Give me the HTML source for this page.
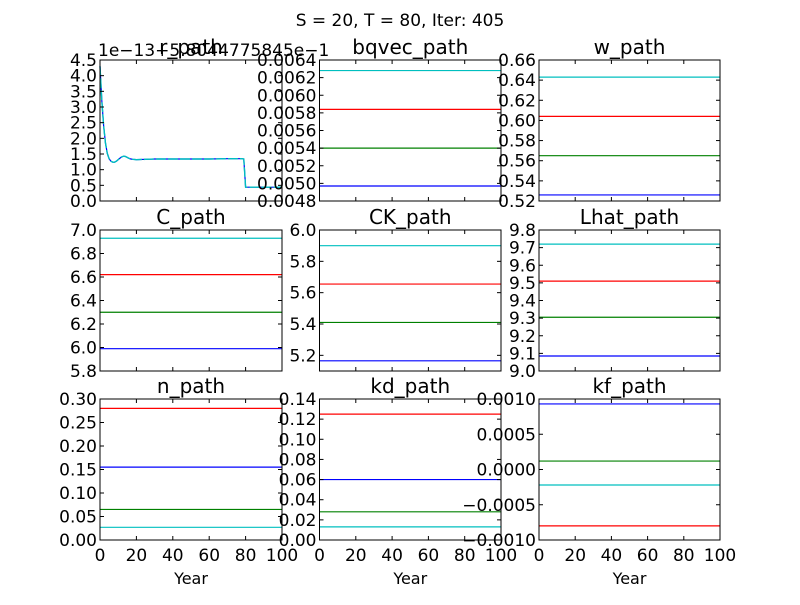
<!DOCTYPE html>
<html><head><meta charset="utf-8"><style>
body{margin:0;background:#fff;}
svg text{font-family:"DejaVu Sans","Liberation Sans",sans-serif;fill:#000;}
</style></head><body>
<svg id="fig" width="800" height="600" xmlns="http://www.w3.org/2000/svg">
<rect width="800" height="600" fill="#fff"/>
<text x="400" y="26" font-size="17" text-anchor="middle">S = 20, T = 80, Iter: 405</text>
</svg>
<script>
const titles = ["r_path","bqvec_path","w_path","C_path","CK_path","Lhat_path","n_path","kd_path","kf_path"];
const yMins = [0,0.0048,0.52,5.8,5.1,9.0,0,0,-0.001];
const yMaxs = [4.5,0.0064,0.66,7.0,6.0,9.8,0.30,0.14,0.001];
const yTickLabels = [
 ["0.0","0.5","1.0","1.5","2.0","2.5","3.0","3.5","4.0","4.5"],
 ["0.0048","0.0050","0.0052","0.0054","0.0056","0.0058","0.0060","0.0062","0.0064"],
 ["0.52","0.54","0.56","0.58","0.60","0.62","0.64","0.66"],
 ["5.8","6.0","6.2","6.4","6.6","6.8","7.0"],
 ["5.2","5.4","5.6","5.8","6.0"],
 ["9.0","9.1","9.2","9.3","9.4","9.5","9.6","9.7","9.8"],
 ["0.00","0.05","0.10","0.15","0.20","0.25","0.30"],
 ["0.00","0.02","0.04","0.06","0.08","0.10","0.12","0.14"],
 ["\u22120.0010","\u22120.0005","0.0000","0.0005","0.0010"]
];
const xTickLabels = ["0","20","40","60","80","100"];
const seriesColors = ["#0000ff","#008000","#ff0000","#00bfbf"];
// constant series values: blue, green, red, cyan
const blueVals  = [null,0.00497,0.526,5.99,5.165,9.085,0.155,0.060,0.00093];
const greenVals = [null,0.00540,0.565,6.30,5.41,9.305,0.065,0.028,0.00012];
const redVals   = [null,0.00584,0.604,6.62,5.655,9.51,0.280,0.125,-0.0008];
const cyanVals  = [null,0.00628,0.643,6.93,5.90,9.72,0.027,0.013,-0.00022];
// r_path curve (units of 1e-13 offset)
const rYears = [0,1,2,3,4,5,6,7,8,9,10,11,12,13,14,15,16,17,18,20,25,30,40,50,60,70,78,79,79.5,80,90,100];
const rVals  = [4.3,3.2,2.4,1.85,1.52,1.35,1.27,1.24,1.24,1.27,1.32,1.37,1.41,1.43,1.42,1.39,1.36,1.34,1.33,1.32,1.33,1.34,1.34,1.34,1.34,1.35,1.35,1.34,0.9,0.44,0.44,0.44];

const svg = document.getElementById('fig');
const NS = "http://www.w3.org/2000/svg";
const colX = [[100,282],[319.5,501],[539,720]];
const rowY = [[60,201],[230,371],[399,540]];
function mk(tag, attrs){const e=document.createElementNS(NS,tag);for(const k in attrs)e.setAttribute(k,attrs[k]);svg.appendChild(e);return e;}

for(let i=0;i<9;i++){
  const c=i%3, r=Math.floor(i/3);
  const [x0,x1]=colX[c], [y0,y1]=rowY[r];
  const ymin=yMins[i], ymax=yMaxs[i];
  const sx=v=>x0+(v/100)*(x1-x0);
  const sy=v=>y1-(v-ymin)/(ymax-ymin)*(y1-y0);
  if(i===0){
    let d="";
    for(let k=0;k<rYears.length;k++) d+=(k?"L":"M")+sx(rYears[k]).toFixed(2)+","+sy(rVals[k]).toFixed(2);
    const p=mk('path',{d:d,fill:'none',stroke:'#0000ff','stroke-width':1.2});
    
    
    const p2=mk('path',{d:d,fill:'none',stroke:'#00bfbf','stroke-width':1.4,'stroke-dasharray':'10,2'});
    
    
  } else {
    const vals=[blueVals[i],greenVals[i],redVals[i],cyanVals[i]];
    const nm=["blue","green","red","cyan"];
    for(let s=0;s<4;s++){
      const l=mk('line',{x1:sx(0),x2:sx(100),y1:sy(vals[s]),y2:sy(vals[s]),stroke:seriesColors[s],'stroke-width':1.2});
      
      
    }
  }
  const fr=mk('rect',{x:x0,y:y0,width:x1-x0,height:y1-y0,fill:'none',stroke:'#000','stroke-width':1});
  
  
  const labs=yTickLabels[i];
  for(let k=0;k<labs.length;k++){
    const v=parseFloat(labs[k].replace('\u2212','-'));
    const y=sy(v);
    mk('line',{x1:x0,x2:x0+4,y1:y,y2:y,stroke:'#000'});
    mk('line',{x1:x1-4,x2:x1,y1:y,y2:y,stroke:'#000'});
    const t=mk('text',{x:x0-3,y:y+6,'font-size':17,'text-anchor':'end'});
    t.textContent=labs[k];
    
    
  }
  for(let k=0;k<xTickLabels.length;k++){
    const x=sx(parseFloat(xTickLabels[k]));
    mk('line',{x1:x,x2:x,y1:y1,y2:y1-4,stroke:'#000'});
    mk('line',{x1:x,x2:x,y1:y0,y2:y0+4,stroke:'#000'});
    if(r===2){
      const t=mk('text',{x:x,y:y1+21,'font-size':17,'text-anchor':'middle'});
      t.textContent=xTickLabels[k];
      
      
    }
  }
  if(r===2){
    const t=mk('text',{x:(x0+x1)/2,y:584,'font-size':16,'text-anchor':'middle'});
    t.textContent="Year";
    
    
  }
  const tt=mk('text',{x:(x0+x1)/2,y:y0-6,'font-size':20,'text-anchor':'middle'});
  tt.textContent=titles[i];
  
  
}
const off=mk('text',{x:98,y:56,'font-size':17});
off.textContent="1e\u221213+5.8044775845e\u22121";


</script>
</body></html>
